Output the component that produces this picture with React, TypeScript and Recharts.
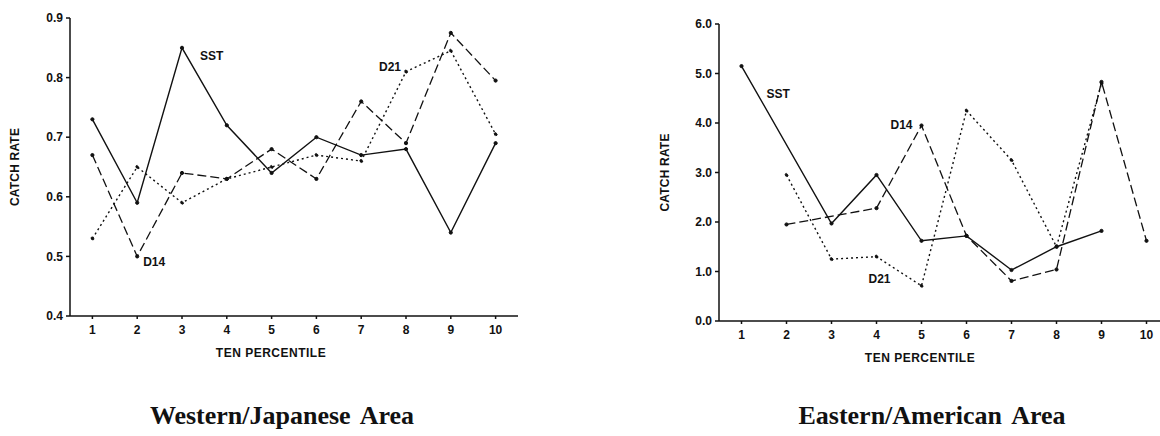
import React from 'react';
import { LineChart, Line, XAxis, YAxis, LabelList, Label } from 'recharts';

// ten percentile classes on the x axis
const percentiles = [1, 2, 3, 4, 5, 6, 7, 8, 9, 10];

// Western/Japanese area catch rates
const westSST = [0.73, 0.59, 0.85, 0.72, 0.64, 0.7, 0.67, 0.68, 0.54, 0.69];
const westD14 = [0.67, 0.5, 0.64, 0.63, 0.68, 0.63, 0.76, 0.69, 0.875, 0.795];
const westD21 = [0.53, 0.65, 0.59, 0.63, 0.65, 0.67, 0.66, 0.81, 0.845, 0.705];
const westTicks = [0.4, 0.5, 0.6, 0.7, 0.8, 0.9];

// Eastern/American area catch rates
const eastSST = [5.15, null, 1.97, 2.95, 1.62, 1.72, 1.03, 1.5, 1.82, null];
const eastD14 = [null, 1.95, null, 2.28, 3.95, 1.72, 0.81, 1.04, 4.83, 1.62];
const eastD21 = [null, 2.95, 1.25, 1.3, 0.71, 4.25, 3.25, 1.5, 4.8, null];
const eastTicks = [0, 1, 2, 3, 4, 5, 6];

const westData = percentiles.map((p, i) => ({ p, sst: westSST[i], d14: westD14[i], d21: westD21[i] }));
const eastData = percentiles.map((p, i) => ({ p, sst: eastSST[i], d14: eastD14[i], d21: eastD21[i] }));

const INK = '#111';
const SANS = '"Liberation Sans", Arial, sans-serif';
const tickStyle = { fontSize: 12, fontWeight: 700, fill: INK, fontFamily: SANS };
const textStyle = { fontSize: 12, fontWeight: 700, fill: INK, fontFamily: SANS };

// series name drawn next to one chosen point
const seriesTag = (name: string, at: number, dx: number, dy: number, anchor: string) => (props: any) => {
  if (props.index !== at) return null;
  return (
    <text x={props.x + dx} y={props.y + dy} textAnchor={anchor} dominantBaseline="central" style={textStyle}>
      {name}
    </text>
  );
};

const yTitle = (dx: number) => (props: any) => {
  const { viewBox } = props;
  const x = viewBox.x + dx;
  const y = viewBox.y + viewBox.height / 2;
  return (
    <text
      x={x}
      y={y}
      transform={`rotate(-90, ${x}, ${y})`}
      textAnchor="middle"
      dominantBaseline="central"
      style={{ ...textStyle, letterSpacing: 0.2 }}
    >
      CATCH RATE
    </text>
  );
};

const xTitle = (props: any) => {
  const { viewBox } = props;
  return (
    <text
      x={viewBox.x + 201}
      y={viewBox.y + 37}
      textAnchor="middle"
      dominantBaseline="central"
      style={{ ...textStyle, letterSpacing: 0.5 }}
    >
      TEN PERCENTILE
    </text>
  );
};

const dot = { r: 1.6, fill: INK, stroke: INK, strokeWidth: 1 };

function Panel({ data, yDomain, yTicks, xMax, width, margin, tags, yDx, fmt }: any) {
  return (
    <LineChart width={width} height={380} data={data} margin={margin}>
      <XAxis
        dataKey="p"
        type="number"
        domain={[0.5, xMax]}
        ticks={percentiles}
        allowDataOverflow
        height={30}
        stroke={INK}
        strokeWidth={1.5}
        tickSize={3}
        tickMargin={6}
        tick={tickStyle}
      >
        <Label content={xTitle} />
      </XAxis>
      <YAxis
        type="number"
        domain={yDomain}
        ticks={yTicks}
        width={65}
        stroke={INK}
        strokeWidth={1.5}
        tickSize={4}
        tickMargin={3}
        tick={tickStyle}
        tickFormatter={fmt}
      >
        <Label content={yTitle(yDx)} />
      </YAxis>
      <Line type="linear" dataKey="sst" stroke={INK} strokeWidth={1.4} dot={dot} connectNulls isAnimationActive={false}>
        <LabelList dataKey="sst" content={tags.sst} />
      </Line>
      <Line type="linear" dataKey="d14" stroke={INK} strokeWidth={1.3} strokeDasharray="9 4" dot={dot} connectNulls isAnimationActive={false}>
        <LabelList dataKey="d14" content={tags.d14} />
      </Line>
      <Line type="linear" dataKey="d21" stroke={INK} strokeWidth={1.4} strokeDasharray="2 3" dot={dot} connectNulls isAnimationActive={false}>
        <LabelList dataKey="d21" content={tags.d21} />
      </Line>
    </LineChart>
  );
}

const areaTitle: React.CSSProperties = {
  position: 'absolute',
  top: 403,
  width: 400,
  textAlign: 'center',
  fontFamily: '"Liberation Serif", "Times New Roman", serif',
  fontWeight: 700,
  fontSize: 26,
  lineHeight: '26px',
  wordSpacing: 4,
  color: INK,
};

export default function App() {
  return (
    <div style={{ position: 'absolute', left: 0, top: 0, width: 1160, height: 436, background: '#fff', overflow: 'hidden' }}>
      <div style={{ position: 'absolute', left: 0, top: 0 }}>
        <Panel
          data={westData}
          yDomain={[0.4, 0.9]}
          yTicks={westTicks}
          xMax={10.5}
          width={540}
          margin={{ top: 18, right: 22, bottom: 34, left: 5 }}
          yDx={10}
          fmt={(v: number) => v.toFixed(1)}
          tags={{
            sst: seriesTag('SST', 2, 18, 8, 'start'),
            d14: seriesTag('D14', 1, 6, 6, 'start'),
            d21: seriesTag('D21', 7, -5, -5, 'end'),
          }}
        />
      </div>
      <div style={{ position: 'absolute', left: 600, top: 0 }}>
        <Panel
          data={eastData}
          yDomain={[0, 6]}
          yTicks={eastTicks}
          xMax={10.3}
          width={560}
          margin={{ top: 24, right: 0, bottom: 29, left: 54 }}
          yDx={11}
          fmt={(v: number) => v.toFixed(1)}
          tags={{
            sst: seriesTag('SST', 0, 25, 28, 'start'),
            d14: seriesTag('D14', 4, -9, 0, 'end'),
            d21: seriesTag('D21', 3, 3, 22, 'middle'),
          }}
        />
      </div>
      <div style={{ ...areaTitle, left: 82 }}>Western/Japanese Area</div>
      <div style={{ ...areaTitle, left: 732 }}>Eastern/American Area</div>
    </div>
  );
}
